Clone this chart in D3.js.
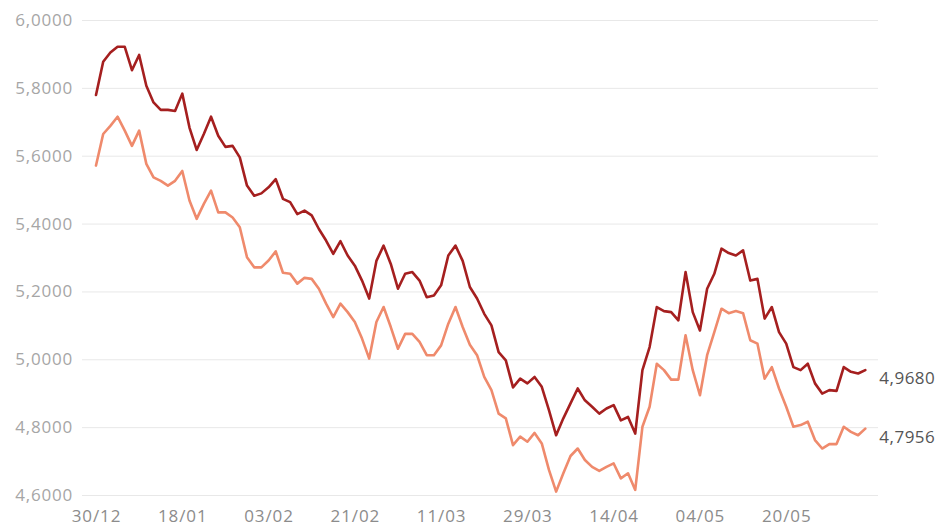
<!DOCTYPE html>
<html>
<head>
<meta charset="utf-8">
<script src="https://cdn.jsdelivr.net/npm/d3@7"></script>
<style>
  html, body { margin: 0; padding: 0; background: #fff; }
  svg { display: block; font-family: "Open Sans", sans-serif; }
</style>
</head>
<body>
<svg id="chart" width="945" height="529"></svg>
<script>
// Business days, 30/12 to 06/06
const dates = [
  "30/12",
  "03/01","04/01","05/01","06/01","07/01",
  "10/01","11/01","12/01","13/01","14/01",
  "17/01","18/01","19/01","20/01","21/01",
  "24/01","25/01","26/01","27/01","28/01",
  "31/01","01/02","02/02","03/02","04/02",
  "07/02","08/02","09/02","10/02","11/02",
  "14/02","15/02","16/02","17/02","18/02",
  "21/02","22/02","23/02","24/02","25/02",
  "02/03","03/03","04/03",
  "07/03","08/03","09/03","10/03","11/03",
  "14/03","15/03","16/03","17/03","18/03",
  "21/03","22/03","23/03","24/03","25/03",
  "28/03","29/03","30/03","31/03","01/04",
  "04/04","05/04","06/04","07/04","08/04",
  "11/04","12/04","13/04","14/04",
  "18/04","19/04","20/04","22/04",
  "25/04","26/04","27/04","28/04","29/04",
  "02/05","03/05","04/05","05/05","06/05",
  "09/05","10/05","11/05","12/05","13/05",
  "16/05","17/05","18/05","19/05","20/05",
  "23/05","24/05","25/05","26/05","27/05",
  "30/05","31/05","01/06","02/06","03/06",
  "06/06"
];

const seriesDark = [
  5.779,5.877,5.904,5.921,5.921,5.852,5.897,5.806,5.757,5.735,
  5.735,5.732,5.783,5.683,5.617,5.664,5.715,5.659,5.626,5.629,
  5.595,5.512,5.482,5.489,5.507,5.531,5.473,5.463,5.428,5.438,
  5.424,5.384,5.350,5.311,5.348,5.306,5.276,5.232,5.179,5.290,
  5.335,5.281,5.208,5.252,5.257,5.232,5.183,5.188,5.218,5.306,
  5.335,5.290,5.213,5.179,5.134,5.100,5.021,4.997,4.917,4.943,
  4.929,4.948,4.919,4.850,4.776,4.826,4.870,4.914,4.879,4.860,
  4.840,4.855,4.865,4.820,4.830,4.781,4.968,5.036,5.154,5.142,
  5.139,5.115,5.257,5.139,5.085,5.208,5.252,5.326,5.313,5.306,
  5.321,5.232,5.237,5.120,5.154,5.080,5.046,4.977,4.968,4.987,
  4.929,4.899,4.909,4.907,4.977,4.963,4.958,4.968
];

const seriesLight = [
  5.571,5.664,5.688,5.715,5.674,5.629,5.674,5.576,5.536,5.526,
  5.512,5.526,5.555,5.468,5.414,5.458,5.497,5.433,5.433,5.418,
  5.389,5.301,5.271,5.271,5.291,5.318,5.255,5.252,5.223,5.240,
  5.237,5.208,5.164,5.124,5.164,5.139,5.110,5.061,5.002,5.110,
  5.154,5.095,5.031,5.075,5.075,5.051,5.012,5.012,5.041,5.105,
  5.154,5.095,5.043,5.012,4.948,4.909,4.840,4.826,4.747,4.772,
  4.757,4.783,4.752,4.674,4.610,4.664,4.715,4.737,4.703,4.683,
  4.671,4.683,4.693,4.649,4.664,4.615,4.801,4.860,4.987,4.968,
  4.940,4.940,5.071,4.968,4.894,5.012,5.080,5.149,5.136,5.142,
  5.136,5.056,5.046,4.943,4.977,4.914,4.860,4.801,4.806,4.816,
  4.762,4.737,4.750,4.750,4.801,4.786,4.776,4.7956
];

const endLabels = ["4,9680", "4,7956"];
const yTicks = [4.6, 4.8, 5.0, 5.2, 5.4, 5.6, 5.8, 6.0];
const xTickLabels = ["30/12","18/01","03/02","21/02","11/03","29/03","14/04","04/05","20/05"];

const svg = d3.select("#chart");

const x = d3.scalePoint().domain(dates).range([96, 865.3]);
const y = d3.scaleLinear().domain([4.6, 6.0]).range([495, 20]);

const fmt = v => d3.format(".4f")(v).replace(".", ",");

// grid + y labels
const yAxis = d3.axisLeft(y).tickValues(yTicks).tickSize(-(878 - 82)).tickFormat(fmt).tickPadding(9);
const gy = svg.append("g").attr("transform", "translate(82,0)").call(yAxis);
gy.select(".domain").remove();
gy.selectAll(".tick line").attr("stroke", "#e8e8e8").attr("stroke-width", 1);
gy.selectAll(".tick text")
  .attr("fill", "#a6a6a6")
  .style("font-family", "'Open Sans', sans-serif")
  .style("font-size", "17px")
  .style("letter-spacing", "0.8px");

// x labels
const xAxis = d3.axisBottom(x).tickValues(xTickLabels).tickSize(0).tickPadding(0);
const gx = svg.append("g").attr("transform", "translate(0,510)").call(xAxis);
gx.select(".domain").remove();
gx.selectAll(".tick text")
  .attr("fill", "#8c8c8c")
  .attr("dy", "0.71em")
  .style("font-family", "'Open Sans', sans-serif")
  .style("font-size", "17px")
  .style("letter-spacing", "0.9px");

const line = d3.line()
  .x((d, i) => x(dates[i]))
  .y(d => y(d))
  .curve(d3.curveLinear);

const series = [
  { values: seriesLight, color: "#ef8a6c", label: endLabels[1] },
  { values: seriesDark, color: "#a51f1f", label: endLabels[0] }
];

series.forEach(s => {
  svg.append("path")
    .datum(s.values)
    .attr("fill", "none")
    .attr("stroke", s.color)
    .attr("stroke-width", 2.6)
    .attr("stroke-linejoin", "round")
    .attr("stroke-linecap", "round")
    .attr("d", line);
  const last = s.values.length - 1;
  svg.append("text")
    .attr("x", x(dates[last]) + 14)
    .attr("y", y(s.values[last]) + 14)
    .attr("fill", "#555")
    .style("font-family", "'Open Sans', sans-serif")
    .style("font-size", "17px")
    .style("letter-spacing", "0.5px")
    .text(s.label);
});
</script>
</body>
</html>
